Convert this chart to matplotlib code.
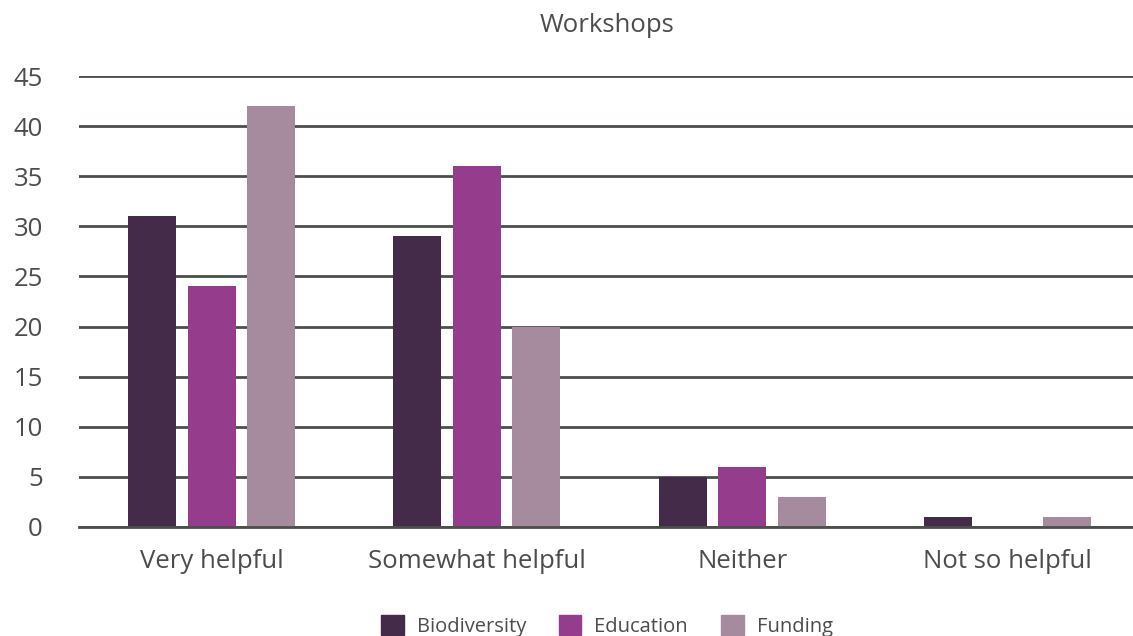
import matplotlib
matplotlib.use("Agg")
import matplotlib.pyplot as plt
import numpy as np

categories = ["Very helpful", "Somewhat helpful", "Neither", "Not so helpful"]
series_names = ["Biodiversity", "Education", "Funding"]
biodiversity = [31, 29, 5, 1]
education = [24, 36, 6, 0]
funding = [42, 20, 3, 1]
yticks = [0, 5, 10, 15, 20, 25, 30, 35, 40, 45]

colors = ["#452b4a", "#953c8c", "#a58b9d"]
text_color = "#4a4d4a"
grid_color = "#4a4f4a"

plt.rcParams['font.family'] = ['Open Sans', 'DejaVu Sans']

fig = plt.figure(figsize=(11.33, 6.36), dpi=100)
ax = fig.add_axes([79/1133, 1 - 527/636, (1140 - 79)/1133, (527 - 76)/636])

x = np.arange(len(categories))
step = 0.2245
width = 0.181
for i, (vals, name) in enumerate(zip([biodiversity, education, funding], series_names)):
    ax.bar(x + (i - 1) * step, vals, width=width, color=colors[i], label=name, zorder=3)

ax.set_xlim(-0.5, 3.5)
ax.set_ylim(0, 45)
ax.set_yticks(yticks)
ax.yaxis.grid(True, color=grid_color, linewidth=2.0, zorder=0)
ax.set_axisbelow(True)
for s in ax.spines.values():
    s.set_visible(False)
ax.axhline(0, color=grid_color, linewidth=2.0, zorder=4, clip_on=False)
ax.tick_params(axis='y', length=0, pad=26, labelsize=18.5, labelcolor=text_color)
ax.tick_params(axis='x', length=0, pad=16, labelsize=18.5, labelcolor=text_color)
ax.set_xticks(x)
ax.set_xticklabels(categories)

fig.text(607/1133, 1 - 26/636, "Workshops", ha='center', va='center', fontsize=18.5, color=text_color)

handles = [plt.Rectangle((0, 0), 1, 1, color=c) for c in colors]
fig.legend(handles, series_names, loc='center', bbox_to_anchor=(607/1133, 1 - 626/636),
           ncol=3, frameon=False, fontsize=14.5, handlelength=1.1, handleheight=1.1,
           handletextpad=0.65, columnspacing=1.65, labelcolor=text_color)

fig.savefig("out.png", dpi=100)
